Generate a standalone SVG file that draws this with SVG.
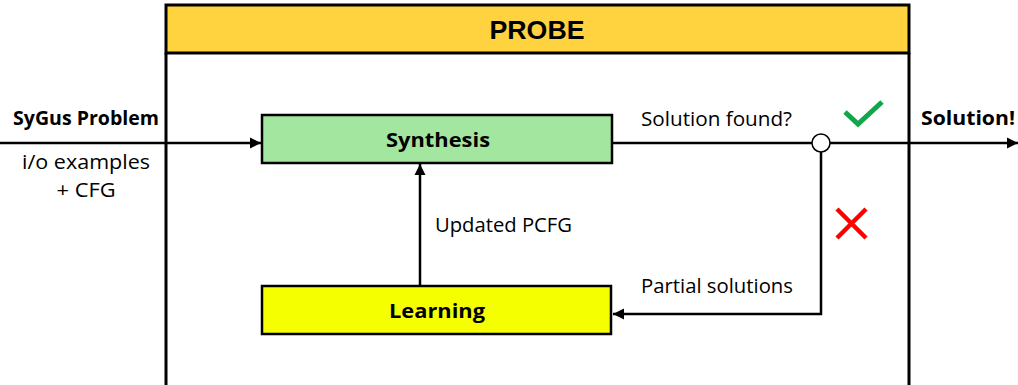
<svg xmlns="http://www.w3.org/2000/svg" width="1018" height="385" viewBox="0 0 1018 385">
  <style>
    .lbl { font-family: "Open Sans", "Liberation Sans", sans-serif; font-size: 20px; fill: #000; }
    .bold { font-weight: bold; }
    .node { stroke: #000; stroke-width: 2.5; }
    .wire { fill: none; stroke: #000; stroke-width: 2.5; }
  </style>
  <defs>
    <marker id="arrow" viewBox="0 0 10 10" refX="10" refY="5" markerWidth="4.5" markerHeight="4.5" orient="auto" markerUnits="strokeWidth">
      <path d="M0,0 L10,5 L0,10 z" fill="#000"/>
    </marker>
  </defs>

  <!-- outer PROBE frame with header band -->
  <g id="probe">
    <rect x="166" y="5" width="743" height="48" fill="#FFD23F" stroke="#000" stroke-width="3"/>
    <line x1="166" y1="53" x2="166" y2="390" stroke="#000" stroke-width="3"/>
    <line x1="909" y1="53" x2="909" y2="390" stroke="#000" stroke-width="3"/>
    <text x="537" y="39" text-anchor="middle" font-family="'Liberation Sans', Arial, sans-serif" font-weight="bold" font-size="26" textLength="95" lengthAdjust="spacingAndGlyphs">PROBE</text>
  </g>

  <!-- connectors -->
  <g id="connectors">
    <line class="wire" x1="0" y1="143" x2="261" y2="143" marker-end="url(#arrow)"/>
    <line class="wire" x1="612" y1="143" x2="812" y2="143"/>
    <line class="wire" x1="830" y1="143" x2="1018" y2="143" marker-end="url(#arrow)"/>
    <polyline class="wire" points="821,152 821,314 613,314" marker-end="url(#arrow)"/>
    <line class="wire" x1="420" y1="286" x2="420" y2="164" marker-end="url(#arrow)"/>
    <circle cx="821" cy="143" r="9" fill="#fff" stroke="#000" stroke-width="1.5"/>
  </g>

  <!-- input description -->
  <g id="input">
    <text class="lbl bold" x="86" y="125" text-anchor="middle" textLength="146" lengthAdjust="spacingAndGlyphs">SyGus Problem</text>
    <text class="lbl" x="86" y="169" text-anchor="middle" textLength="128" lengthAdjust="spacingAndGlyphs">i/o examples</text>
    <text class="lbl" x="86" y="197" text-anchor="middle" textLength="59" lengthAdjust="spacingAndGlyphs">+ CFG</text>
  </g>

  <g id="synthesis">
    <rect class="node" x="262" y="115" width="350" height="48" fill="#A3E6A0"/>
    <text class="lbl bold" x="438" y="147" text-anchor="middle" font-size="24" textLength="104" lengthAdjust="spacingAndGlyphs">Synthesis</text>
  </g>

  <g id="learning">
    <rect class="node" x="262" y="286" width="349" height="48" fill="#F5FF00"/>
    <text class="lbl bold" x="437" y="318" text-anchor="middle" font-size="24" textLength="96" lengthAdjust="spacingAndGlyphs">Learning</text>
  </g>

  <g id="decision">
    <text class="lbl" x="641" y="126" textLength="151" lengthAdjust="spacingAndGlyphs">Solution found?</text>
    <path d="M845,112 L858,124 L882,102" fill="none" stroke="#12A64B" stroke-width="5"/>
    <path d="M837,209 L866,238 M866,209 L837,238" fill="none" stroke="#FF0000" stroke-width="4.5"/>
    <text class="lbl" x="641" y="293" textLength="152" lengthAdjust="spacingAndGlyphs">Partial solutions</text>
    <text class="lbl" x="435" y="232" textLength="137" lengthAdjust="spacingAndGlyphs">Updated PCFG</text>
  </g>

  <g id="output">
    <text class="lbl bold" x="968" y="125" text-anchor="middle" textLength="94" lengthAdjust="spacingAndGlyphs">Solution!</text>
  </g>
</svg>
